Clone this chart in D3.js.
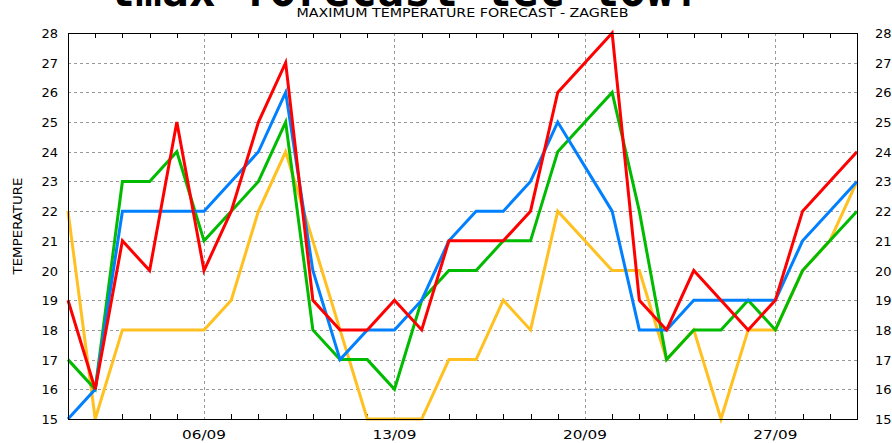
<!DOCTYPE html>
<html>
<head>
<meta charset="utf-8">
<script src="https://cdn.jsdelivr.net/npm/d3@7"></script>
<style>
  body { margin: 0; background: #fff; }
  svg { display: block; }
</style>
</head>
<body>
<svg id="chart" width="892" height="443"></svg>
<script>
// days of September
const days = [1,2,3,4,5,6,7,8,9,10,11,12,13,14,15,16,17,18,19,20,21,22,23,24,25,26,27,28,29,30]
const gridDays = [6, 13, 20, 27]
const gridLabels = ['06/09', '13/09', '20/09', '27/09']
const yTicks = [15,16,17,18,19,20,21,22,23,24,25,26,27,28]

const yellowVals = [22,15,18,18,18,18,19,22,24,21,18,15,15,15,17,17,19,18,22,21,20,20,17,18,15,18,18,20,21,23]
const greenVals  = [17,16,23,23,24,21,22,23,25,18,17,17,16,19,20,20,21,21,24,25,26,22,17,18,18,19,18,20,21,22]
const blueVals   = [15,16,22,22,22,22,23,24,26,20,17,18,18,19,21,22,22,23,25,23.5,22,18,18,19,19,19,19,21,22,23]
const redVals    = [19,16,21,20,25,20,22,25,27,19,18,18,19,18,21,21,21,22,26,27,28,19,18,20,19,18,19,22,23,24]

const series = [
    { name: 'yellow', values: yellowVals, color: '#ffc020' },
    { name: 'green', values: greenVals, color: '#00bb00' },
    { name: 'blue', values: blueVals, color: '#0080ff' },
    { name: 'red', values: redVals, color: '#ff0000' },
]

const svg = d3.select('#chart')
const plot = { left: 68, right: 857, top: 33, bottom: 419 }

const xScale = d3.scaleLinear().domain([1, 30]).range([plot.left, plot.right])
const yScale = d3.scaleLinear().domain([15, 28]).range([plot.bottom, plot.top])

// big cut-off heading at the very top
svg.append('text')
    .attr('x', 108)
    .attr('y', 6)
    .attr('textLength', 592)
    .attr('lengthAdjust', 'spacingAndGlyphs')
    .style('font-family', 'DejaVu Sans Mono, monospace')
    .style('font-weight', 'bold')
    .style('font-size', '48px')
    .attr('fill', '#000')
    .text('tmax forecast tec-tow!')

svg.append('text')
    .attr('x', (plot.left + plot.right) / 2)
    .attr('y', 17)
    .attr('text-anchor', 'middle')
    .attr('textLength', 332)
    .attr('lengthAdjust', 'spacingAndGlyphs')
    .style('font-family', 'DejaVu Sans Condensed, DejaVu Sans, sans-serif')
    .style('font-size', '13px')
    .text('MAXIMUM TEMPERATURE FORECAST - ZAGREB')

svg.append('text')
    .attr('transform', 'translate(22,226) rotate(-90)')
    .attr('text-anchor', 'middle')
    .attr('textLength', 97)
    .attr('lengthAdjust', 'spacingAndGlyphs')
    .style('font-family', 'DejaVu Sans Condensed, DejaVu Sans, sans-serif')
    .style('font-size', '13px')
    .text('TEMPERATURE')

// grid
const grid = svg.append('g').attr('stroke', '#999').attr('stroke-dasharray', '3,3').attr('shape-rendering', 'crispEdges')
grid.selectAll('line.h')
    .data(yTicks.slice(1, -1))
    .enter().append('line')
    .attr('class', 'h')
    .attr('x1', plot.left).attr('x2', plot.right)
    .attr('y1', d => Math.round(yScale(d)) + 0.5)
    .attr('y2', d => Math.round(yScale(d)) + 0.5)
grid.selectAll('line.v')
    .data(gridDays)
    .enter().append('line')
    .attr('class', 'v')
    .attr('y1', plot.top).attr('y2', plot.bottom)
    .attr('x1', d => Math.round(xScale(d)) + 0.5)
    .attr('x2', d => Math.round(xScale(d)) + 0.5)

// minor day ticks, top and bottom
const ticks = svg.append('g').attr('stroke', '#000').attr('shape-rendering', 'crispEdges')
const tickDays = days.slice(1, -1).filter(d => !gridDays.includes(d))
tickDays.forEach(d => {
    const x = Math.round(xScale(d)) + 0.5
    ticks.append('line').attr('x1', x).attr('x2', x).attr('y1', plot.top).attr('y2', plot.top + 5)
    ticks.append('line').attr('x1', x).attr('x2', x).attr('y1', plot.bottom).attr('y2', plot.bottom - 5)
})

// lines
const line = d3.line()
    .x((d, i) => xScale(days[i]))
    .y(d => yScale(d))

svg.append('g')
    .selectAll('path')
    .data(series)
    .enter().append('path')
    .attr('d', d => line(d.values))
    .attr('fill', 'none')
    .attr('stroke', d => d.color)
    .attr('stroke-width', 3)
    .attr('stroke-linejoin', 'miter')

// frame
svg.append('rect')
    .attr('x', plot.left + 0.5).attr('y', plot.top + 0.5)
    .attr('width', plot.right - plot.left)
    .attr('height', plot.bottom - plot.top)
    .attr('fill', 'none')
    .attr('stroke', '#000')
    .attr('shape-rendering', 'crispEdges')

// tick labels
const labelFont = 'DejaVu Sans, sans-serif'
svg.append('g').selectAll('text')
    .data(yTicks)
    .enter().append('text')
    .attr('x', 58)
    .attr('y', d => yScale(d) + 5)
    .attr('text-anchor', 'end')
    .style('font-family', labelFont)
    .style('font-size', '13px')
    .text(d => d)

svg.append('g').selectAll('text')
    .data(yTicks)
    .enter().append('text')
    .attr('x', 875)
    .attr('y', d => yScale(d) + 5)
    .style('font-family', labelFont)
    .style('font-size', '13px')
    .text(d => d)

svg.append('g').selectAll('text')
    .data(gridDays)
    .enter().append('text')
    .attr('x', d => xScale(d))
    .attr('y', 439)
    .attr('text-anchor', 'middle')
    .attr('textLength', 44)
    .attr('lengthAdjust', 'spacingAndGlyphs')
    .style('font-family', labelFont)
    .style('font-size', '13px')
    .text((d, i) => gridLabels[i])
</script>
</body>
</html>
